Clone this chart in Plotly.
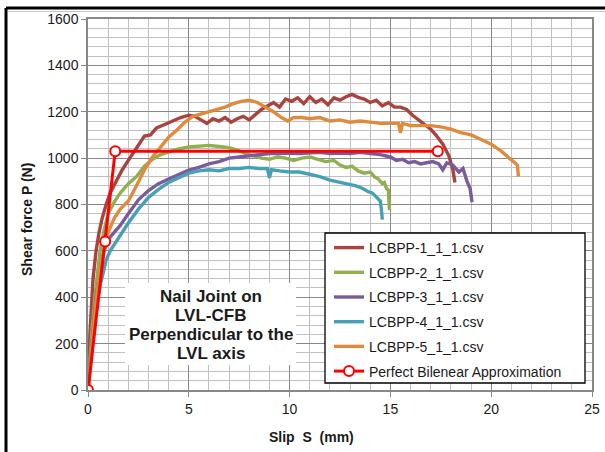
import plotly.graph_objects as go

# ---------------- data ----------------
s1_x = [0, 0.1, 0.25, 0.4, 0.55, 0.7, 0.9, 1.1, 1.4, 1.7, 2.0, 2.3, 2.6, 2.8, 3.1, 3.4, 3.8, 4.2, 4.6, 5.0,
        5.3, 5.6, 5.9, 6.2, 6.5, 6.8, 7.1, 7.4, 7.7, 8.0, 8.3, 8.6, 8.9, 9.2, 9.5, 9.8, 10.1, 10.4, 10.7, 11.0,
        11.3, 11.6, 11.9, 12.2, 12.5, 12.8, 13.1, 13.4, 13.7, 14.0, 14.3, 14.6, 14.9, 15.2, 15.5, 15.8, 16.1,
        16.4, 16.7, 17.0, 17.3, 17.6, 17.9, 18.1, 18.2]
s1_y = [0, 250, 480, 600, 680, 740, 800, 850, 900, 950, 990, 1030, 1070, 1095, 1100, 1130, 1145, 1160, 1175, 1185,
        1180, 1165, 1150, 1170, 1160, 1175, 1155, 1170, 1180, 1165, 1190, 1210, 1225, 1240, 1220, 1255, 1245, 1260,
        1235, 1265, 1240, 1255, 1230, 1260, 1250, 1265, 1275, 1262, 1255, 1240, 1250, 1225, 1240, 1220, 1220, 1210,
        1185, 1165, 1145, 1125, 1095, 1060, 1010, 950, 895]

s2_x = [0, 0.2, 0.4, 0.6, 0.8, 1.0, 1.3, 1.6, 2.0, 2.4, 2.8, 3.2, 3.6, 4.0, 4.5, 5.0, 5.5, 6.0, 6.5, 7.0,
        7.4, 7.8, 8.2, 8.6, 9.0, 9.4, 9.8, 10.2, 10.6, 11.0, 11.4, 11.8, 12.2, 12.5, 12.8, 13.1, 13.4, 13.7,
        14.0, 14.2, 14.4, 14.6, 14.7, 14.8, 14.9, 14.92, 14.95]
s2_y = [0, 260, 450, 600, 690, 760, 810, 850, 890, 920, 965, 995, 1015, 1025, 1040, 1048, 1052, 1055, 1050, 1045,
        1035, 1020, 1010, 1000, 995, 1005, 1000, 990, 1000, 1005, 995, 985, 990, 970, 960, 965, 945, 935, 940,
        920, 910, 890, 895, 870, 862, 790, 776]

s3_x = [0, 0.2, 0.4, 0.6, 0.8, 1.0, 1.3, 1.6, 2.0, 2.5, 3.0, 3.5, 4.0, 4.5, 5.0, 5.5, 6.0, 6.5, 7.0, 7.5,
        8.0, 8.5, 9.0, 9.5, 10.0, 10.5, 11.0, 11.5, 12.0, 12.5, 13.0, 13.5, 14.0, 14.5, 15.0, 15.3, 15.6, 15.9,
        16.2, 16.5, 16.8, 17.1, 17.4, 17.6, 17.8, 18.1, 18.4, 18.6, 18.8, 18.95, 19.05]
s3_y = [0, 220, 400, 510, 600, 650, 680, 710, 760, 820, 860, 890, 910, 930, 948, 960, 975, 985, 1000, 1005,
        1010, 1015, 1020, 1020, 1022, 1020, 1022, 1025, 1020, 1022, 1020, 1025, 1020, 1015, 1005, 990, 995, 980,
        985, 975, 980, 985, 975, 950, 980, 970, 940, 955, 900, 870, 810]

s4_x = [0, 0.2, 0.4, 0.6, 0.75, 0.9, 1.1, 1.4, 1.7, 2.0, 2.5, 3.0, 3.5, 4.0, 4.5, 5.0, 5.5, 6.0, 6.5, 7.0,
        7.5, 8.0, 8.5, 8.9, 9.0, 9.1, 9.5, 10.0, 10.5, 11.0, 11.5, 12.0, 12.5, 13.0, 13.3, 13.6, 13.9, 14.1,
        14.3, 14.5, 14.55, 14.6]
s4_y = [0, 180, 340, 450, 510, 560, 600, 640, 680, 720, 780, 830, 865, 895, 915, 935, 945, 950, 945, 955,
        955, 960, 955, 955, 915, 950, 945, 940, 940, 930, 920, 905, 895, 885, 880, 870, 855, 850, 830, 815,
        780, 735]

s5_x = [0, 0.2, 0.4, 0.6, 0.8, 1.0, 1.3, 1.6, 2.0, 2.4, 2.8, 3.2, 3.6, 4.0, 4.4, 4.8, 5.2, 5.6, 6.0, 6.4,
        6.8, 7.2, 7.6, 8.0, 8.4, 8.8, 9.2, 9.6, 9.9, 10.2, 10.6, 11.0, 11.5, 12.0, 12.5, 13.0, 13.5, 14.0,
        14.5, 15.0, 15.4, 15.5, 15.6, 16.0, 16.5, 17.0, 17.5, 18.0, 18.5, 19.0, 19.5, 20.0, 20.5, 20.9, 21.3, 21.35]
s5_y = [0, 200, 380, 520, 610, 680, 740, 780, 815, 880, 950, 1005, 1050, 1090, 1120, 1155, 1180, 1190, 1200, 1210,
        1220, 1235, 1245, 1250, 1240, 1220, 1200, 1175, 1160, 1175, 1175, 1170, 1175, 1160, 1165, 1155, 1160, 1155,
        1150, 1150, 1150, 1110, 1150, 1140, 1140, 1140, 1135, 1125, 1110, 1100, 1080, 1060, 1030, 1000, 970, 920]

bil_x = [0, 0.85, 1.35, 17.35]
bil_y = [0, 640, 1030, 1030]

series_names = ["LCBPP-1_1_1.csv", "LCBPP-2_1_1.csv", "LCBPP-3_1_1.csv",
                "LCBPP-4_1_1.csv", "LCBPP-5_1_1.csv"]
bil_name = "Perfect Bilenear Approximation"
note_lines = ["Nail Joint on", "LVL-CFB", "Perpendicular to the", "LVL axis"]

x_ticks = [0, 5, 10, 15, 20, 25]
y_ticks = [0, 200, 400, 600, 800, 1000, 1200, 1400, 1600]

# ---------------- styling ----------------
colors = ["#A8433F", "#90B050", "#7A5C9C", "#46A0B8", "#E08A3C"]
FONT = "Arial, Liberation Sans, sans-serif"
TXT = "#1a1a1a"

fig = go.Figure()
xs = [s1_x, s2_x, s3_x, s4_x, s5_x]
ys = [s1_y, s2_y, s3_y, s4_y, s5_y]
for i in range(5):
    fig.add_trace(go.Scatter(x=xs[i], y=ys[i], mode="lines", name=series_names[i],
                             legendgroup="g%d" % i,
                             line=dict(color=colors[i], width=3.4)))
fig.add_trace(go.Scatter(x=bil_x, y=bil_y, mode="lines+markers", name=bil_name,
                         legendgroup="g5",
                         line=dict(color="#FF0000", width=3),
                         marker=dict(symbol="circle", size=10, color="white",
                                     line=dict(color="#FF0000", width=2))))

L, R, T, B = 88, 13, 19, 62
PW = 605 - L - R
PH = 452 - T - B

def px_x(p):
    return (p - L) / PW

def px_y(p):
    return (452 - B - p) / PH

major = "#888888"
minorc = "#C0C0C0"

fig.update_layout(
    width=605, height=452,
    margin=dict(l=L, r=R, t=T, b=B, autoexpand=False),
    paper_bgcolor="white", plot_bgcolor="white",
    font=dict(family=FONT, size=14, color=TXT),
    showlegend=True,
    legend=dict(x=px_x(329), y=px_y(232), xanchor="left", yanchor="top",
                bgcolor="rgba(0,0,0,0)", borderwidth=0,
                font=dict(family=FONT, size=14, color=TXT),
                tracegroupgap=3.5, itemwidth=30),
    xaxis=dict(range=[0, 25], tickvals=x_ticks, showgrid=True, gridcolor=major, gridwidth=1,
               showline=True, linecolor=major, linewidth=1.5, mirror=True, automargin=False,
               ticks="outside", ticklen=5, tickcolor=major, zeroline=False,
               tickfont=dict(size=14),
               minor=dict(dtick=1, showgrid=True, gridcolor=minorc, gridwidth=1, ticks="")),
    yaxis=dict(range=[0, 1600], tickvals=y_ticks, showgrid=True, gridcolor=major, gridwidth=1,
               showline=True, linecolor=major, linewidth=1.5, mirror=True, automargin=False,
               ticks="outside", ticklen=5, tickcolor=major, zeroline=False,
               tickfont=dict(size=14),
               minor=dict(dtick=40, showgrid=True, gridcolor=minorc, gridwidth=1, ticks="")),
)

# legend frame (white box with black border, legend drawn on top)
fig.add_shape(type="rect", xref="paper", yref="paper", layer="above",
              x0=px_x(325), x1=px_x(585), y0=px_y(383), y1=px_y(233),
              fillcolor="white", line=dict(color="black", width=1.3))

# axis titles
fig.add_annotation(text="<b>Slip\u00a0 S\u00a0 (mm)</b>", x=px_x(311), y=px_y(437), xref="paper", yref="paper",
                   xanchor="center", yanchor="middle",
                   showarrow=False, font=dict(family=FONT, size=14, color=TXT))
fig.add_annotation(text="<b>Shear force P (N)</b>", x=px_x(27), y=px_y(220), xref="paper", yref="paper",
                   xanchor="center", yanchor="middle",
                   showarrow=False, textangle=-90, font=dict(family=FONT, size=14, color=TXT))

# description box (white background, then one text line at a time)
fig.add_shape(type="rect", xref="paper", yref="paper", layer="above",
              x0=px_x(125), x1=px_x(296), y0=px_y(365), y1=px_y(283),
              fillcolor="white", line=dict(width=0))
for k, t in enumerate(note_lines):
    fig.add_annotation(text="<b>%s</b>" % t, x=px_x(210.5), y=px_y(296 + 19 * k), xref="paper", yref="paper",
                       xanchor="center", yanchor="middle", showarrow=False,
                       font=dict(family=FONT, size=17, color=TXT))

# outer chart frame
fig.add_shape(type="line", xref="paper", yref="paper", x0=px_x(6), x1=px_x(605), y0=px_y(8), y1=px_y(8),
              line=dict(color="black", width=3))
fig.add_shape(type="line", xref="paper", yref="paper", x0=px_x(8), x1=px_x(605), y0=px_y(11.5), y1=px_y(11.5),
              line=dict(color="#C8C8C8", width=1))
fig.add_shape(type="line", xref="paper", yref="paper", x0=px_x(6), x1=px_x(6), y0=px_y(8), y1=px_y(452),
              line=dict(color="black", width=3))

fig.write_html("out.html", config={"displayModeBar": False},
               post_script="document.body.style.margin='0px';")
